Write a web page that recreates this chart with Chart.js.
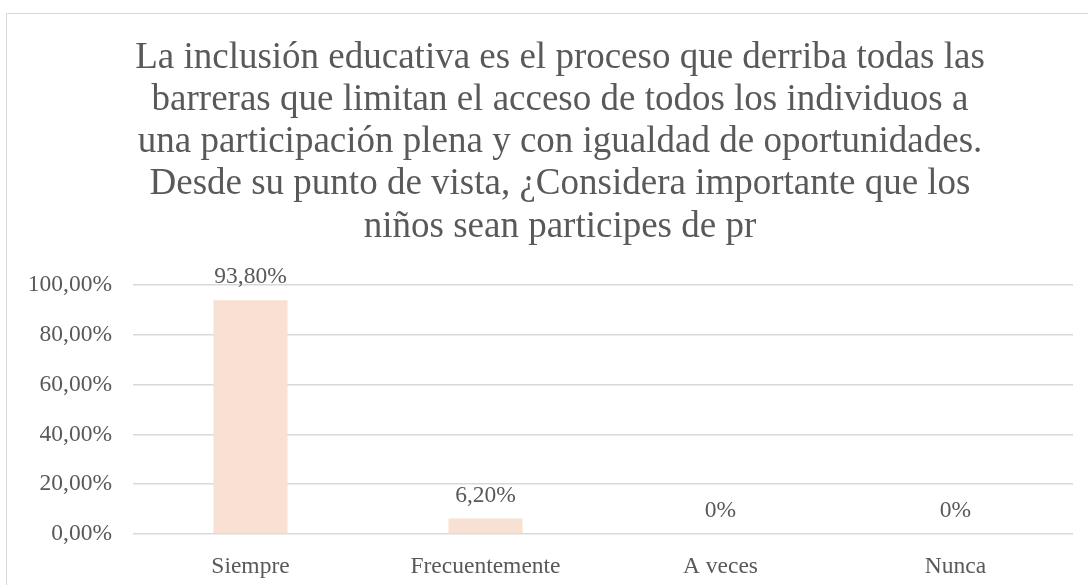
<!DOCTYPE html>
<html>
<head>
<meta charset="utf-8">
<script src="https://cdn.jsdelivr.net/npm/chart.js@4/dist/chart.umd.min.js"></script>
<style>
  html, body { margin: 0; padding: 0; background: #ffffff; }
  #wrap { position: relative; width: 1088px; height: 585px; overflow: hidden; }
  #frame { position: absolute; left: 6px; top: 13px; width: 1100px; height: 600px; border: 1.5px solid #d9d9d9; box-sizing: border-box; }
  canvas { position: absolute; left: 0; top: 0; }
</style>
</head>
<body>
<div id="wrap">
  <div id="frame"></div>
  <canvas id="c" width="1088" height="585"></canvas>
</div>
<script>
const categories = ["Siempre", "Frecuentemente", "A veces", "Nunca"];
const values = [93.8, 6.2, 0, 0];
const valueLabels = ["93,80%", "6,20%", "0%", "0%"];
const yTicks = [0, 20, 40, 60, 80, 100];
const titleLines = [
  "La inclusión educativa es el proceso que derriba todas las",
  "barreras que limitan el acceso de todos los individuos a",
  "una participación plena y con igualdad de oportunidades.",
  "Desde su punto de vista, ¿Considera importante que los",
  "niños sean participes de pr"
];

const textColor = "#595959";
const serif = "'Liberation Serif', 'Times New Roman', serif";
const tickSize = 23.5;

const dataLabelPlugin = {
  id: "dataLabels",
  afterLayout(chart) {
    if (chart.titleBlock) { chart.titleBlock.left = 47; }
  },
  afterDatasetsDraw(chart) {
    const ctx = chart.ctx;
    const meta = chart.getDatasetMeta(0);
    ctx.save();
    ctx.font = tickSize + "px " + serif;
    ctx.fillStyle = textColor;
    ctx.textAlign = "center";
    ctx.textBaseline = "alphabetic";
    meta.data.forEach((bar, i) => {
      ctx.fillText(valueLabels[i], bar.x, bar.y - 17);
    });
    ctx.restore();
  }
};

new Chart(document.getElementById("c"), {
  type: "bar",
  data: {
    labels: categories,
    datasets: [{
      data: values,
      backgroundColor: "#f8e1d3",
      borderWidth: 0,
      categoryPercentage: 1,
      barPercentage: 0.315
    }]
  },
  options: {
    responsive: false,
    animation: false,
    devicePixelRatio: 1,
    layout: { padding: { left: 0, right: 15, top: 0, bottom: 0 } },
    plugins: {
      legend: { display: false },
      tooltip: { enabled: false },
      title: {
        display: true,
        text: titleLines,
        color: textColor,
        font: { family: serif, size: 37, weight: "normal", lineHeight: 1.14 },
        padding: { top: 37, bottom: 37 }
      }
    },
    scales: {
      x: {
        grid: { display: false, drawTicks: false },
        border: { display: false },
        ticks: { color: textColor, font: { family: serif, size: tickSize }, padding: 19 },
        afterFit(scale) { scale.height = 51; }
      },
      y: {
        min: 0,
        max: 100,
        afterBuildTicks(scale) { scale.ticks = yTicks.map(v => ({ value: v })); },
        grid: { color: "#d9d9d9", lineWidth: 1.5, drawTicks: false },
        border: { display: false },
        ticks: {
          color: textColor,
          font: { family: serif, size: tickSize },
          padding: 21,
          callback: (v) => v.toFixed(2).replace(".", ",") + "%"
        },
        afterFit(scale) { scale.width = 133; }
      }
    }
  },
  plugins: [dataLabelPlugin]
});
</script>
</body>
</html>
